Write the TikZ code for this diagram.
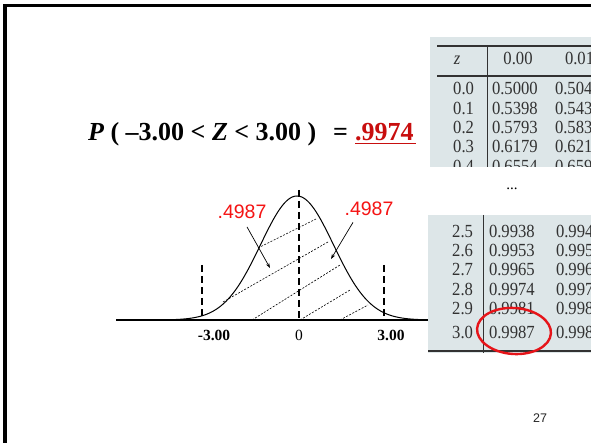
\documentclass[tikz,border=0pt]{standalone}
\usepackage{fontspec}
\setmainfont{Liberation Serif}
\newfontfamily\arialf{Liberation Sans}
\newfontfamily\tblf[FakeStretch=0.9]{Liberation Serif}
\usetikzlibrary{arrows.meta}
\definecolor{tblbg}{RGB}{221,230,232}
\definecolor{tbltxt}{RGB}{50,50,50}
\definecolor{darkred}{RGB}{200,14,14}
\definecolor{ringred}{RGB}{230,20,25}
\definecolor{lblred}{RGB}{245,20,20}
\begin{document}
\begin{tikzpicture}[x=1pt,y=-1pt,
  every node/.style={inner sep=0pt, outer sep=0pt},
  vdash/.style={line width=2.2pt, dash pattern=on 7pt off 4pt},
  hatch/.style={line width=0.6pt, dash pattern=on 2pt off 1.5pt},
  arr/.style={line width=0.7pt, -{Stealth[length=5pt,width=3.5pt]}},
  tnum/.style={font=\tblf\fontsize{18.5}{18.5}\selectfont, text=tbltxt},
  rule/.style={line width=1.2pt, draw=tbltxt},
  lbl/.style={font=\arialf\fontsize{19.5}{20}\selectfont, text=lblred},
  tick/.style={font=\fontsize{15.5}{15.5}\selectfont, anchor=base},
  tickb/.style={font=\bfseries\fontsize{15.5}{15.5}\selectfont, anchor=base},
  eqf/.style={font=\bfseries\fontsize{26}{26}\selectfont, anchor=base}
]
\useasboundingbox (0,0) rectangle (591,443);
\fill[white] (0,0) rectangle (591,443);
% frame
\draw[line width=4pt] (5.3,443) -- (5.3,4);
\draw[line width=2.7pt] (3.3,5.3) -- (591,5.3);

% equation
\node[eqf, anchor=base west] (eq) at (88,140.5) {\textit{P} ( –3.00 < \textit{Z} < 3.00 )};
\node[eqf] (eqs) at (340.5,140.5) {=};
\node[eqf, anchor=base west, text=darkred] (ans) at (355,140.5) {.9974};
\draw[darkred, line width=1.5pt] ([yshift=-3pt]ans.base west) -- ([yshift=-3pt,xshift=2pt]ans.base east);

% normal curve
\draw[line width=1.3pt] (116,320) -- (428,320);
\draw[line width=1pt] plot[domain=150:426, samples=200, smooth]
  (\x,{320-124*exp(-0.5*((\x-297)/36.5)*((\x-297)/36.5))});
\draw[vdash] (202,265) -- (202,320);
\draw[vdash] (299,190) -- (299,320);
\draw[vdash] (384,265) -- (384,320);
% hatching
\draw[hatch] (258,248) -- (316,219);
\draw[hatch] (223,302) -- (328,242);
\draw[hatch] (252,320) -- (340,265);
\draw[hatch] (300,320) -- (350,290);
\draw[hatch] (340,320) -- (368,305);

% labels and arrows
\node[lbl] (l1) at (242,212) {.4987};
\node[lbl] (l2) at (369,209) {.4987};
\coordinate (e1) at (270,268);
\coordinate (e2) at (331,259);
\draw[arr] ([xshift=5pt,yshift=-8pt]l1.south) -- (e1);
\draw[arr] ([xshift=-16pt,yshift=-6.5pt]l2.south) -- (e2);

% tick labels
\node[tickb] (tm3) at (214,340) {-3.00};
\node[tick] (t0) at (299,340) {0};
\node[tickb] (tp3) at (391,340) {3.00};

% top table
\begin{scope}
\clip (430,37) rectangle (591,167);
\fill[tblbg] (430,37) rectangle (591,167);
\draw[rule] (437,46) -- (591,46);
\draw[rule] (437,76) -- (591,76);
\draw[rule, line width=1pt] (487,46) -- (487,167);
\node[tnum, anchor=base] (hz) at (457,65) {\textit{z}};
\node[tnum, anchor=base] (h0) at (518,65) {0.00};
\node[tnum, anchor=base west] (h1) at (565,65) {0.01};
\foreach \r/\a/\b [count=\i] in {0.0/0.5000/0.5040, 0.1/0.5398/0.5438, 0.2/0.5793/0.5832, 0.3/0.6179/0.6217, 0.4/0.6554/0.6591}{
  \pgfmathsetmacro{\yy}{75.7+19.3*\i}
  \node[tnum, anchor=base east] (tr\i) at (474,\yy) {\r};
  \node[tnum, anchor=base west] (ta\i) at (492,\yy) {\a};
  \node[tnum, anchor=base west] (tb\i) at (555,\yy) {\b};
}
\end{scope}

\node[font=\fontsize{15}{15}\selectfont] (dots) at (512,189) {...};

% bottom table
\begin{scope}
\clip (428,215) rectangle (591,353);
\fill[tblbg] (428,215) rectangle (591,353);
\draw[rule, line width=1pt] (483,215) -- (483,353);
\draw[rule] (428,351) -- (591,351);
\foreach \r/\a/\b/\yy [count=\i] in {2.5/0.9938/0.9940/238, 2.6/0.9953/0.9955/257, 2.7/0.9965/0.9966/276, 2.8/0.9974/0.9975/296, 2.9/0.9981/0.9982/315, 3.0/0.9987/0.9987/338}{
  \node[tnum, anchor=base east] (br\i) at (473,\yy) {\r};
  \node[tnum, anchor=base west] (ba\i) at (489,\yy) {\a};
  \node[tnum, anchor=base west] (bb\i) at (556,\yy) {\b};
}
\end{scope}
\draw[ringred, line width=2.4pt, rotate around={-4:(514,331)}] (514,331) ellipse [x radius=37pt, y radius=23pt];

% page number
\node[font=\arialf\fontsize{12.5}{12.5}\selectfont, text=black!85] (pg) at (540,418) {27};
\end{tikzpicture}
\end{document}
